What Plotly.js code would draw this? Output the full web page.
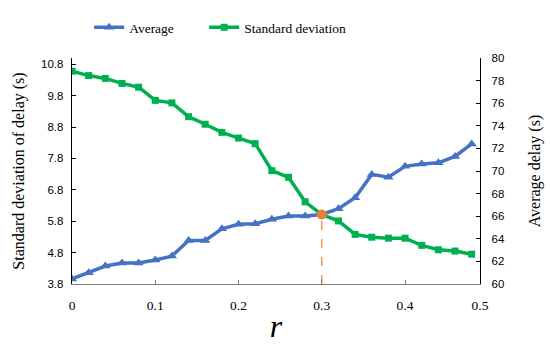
<!DOCTYPE html>
<html>
<head>
<meta charset="utf-8">
<script src="https://cdn.plot.ly/plotly-3.0.1.min.js"></script>
<style>html,body{margin:0;padding:0;background:#fff;}#chart{width:550px;height:344px;}</style>
</head>
<body>
<div id="chart"></div>
<script>
// r values (0 to 0.48, step 0.02)
const rValues = [0,0.02,0.04,0.06,0.08,0.10,0.12,0.14,0.16,0.18,0.20,0.22,0.24,0.26,0.28,0.30,0.32,0.34,0.36,0.38,0.40,0.42,0.44,0.46,0.48];
// Average delay (s), right axis
const averageDelay = [60.45,61.0,61.59,61.85,61.85,62.13,62.47,63.86,63.86,64.88,65.28,65.34,65.73,66.02,66.02,66.15,66.66,67.63,69.70,69.45,70.41,70.61,70.72,71.29,72.40];
// Standard deviation of delay (s), left axis
const stdDelay = [10.58,10.44,10.35,10.19,10.07,9.65,9.57,9.13,8.89,8.63,8.45,8.27,7.41,7.20,6.42,6.01,5.81,5.38,5.29,5.26,5.26,5.03,4.89,4.85,4.75];
// Tick labels
const leftTicks = [3.8,4.8,5.8,6.8,7.8,8.8,9.8,10.8];
const rightTicks = [60,62,64,66,68,70,72,74,76,78,80];
const xTickVals = [0,0.1,0.2,0.3,0.4,0.49];
const xTickText = ["0","0.1","0.2","0.3","0.4","0.5"];
const crossIndex = 15;

const serif = "Liberation Serif, Times New Roman, serif";
const sans = "Liberation Sans, Arial, sans-serif";

const traces = [
  {x: rValues, y: stdDelay, yaxis: 'y', name: 'Standard deviation', type: 'scatter', mode: 'lines+markers', legend: 'legend2',
   line: {color: '#00B050', width: 3.5}, marker: {symbol: 'square', size: 7, color: '#00B050'}},
  {x: [rValues[crossIndex], rValues[crossIndex]], y: [60, averageDelay[crossIndex]], yaxis: 'y2', type: 'scatter', mode: 'lines',
   line: {color: '#ED7D31', width: 1.2, dash: 'dash'}, showlegend: false, hoverinfo: 'skip'},
  {x: rValues, y: averageDelay, yaxis: 'y2', name: 'Average', type: 'scatter', mode: 'lines+markers', legend: 'legend',
   line: {color: '#4472C4', width: 3.5}, marker: {symbol: 'triangle-up', size: 9, color: '#4472C4'}},
  {x: [rValues[crossIndex]], y: [averageDelay[crossIndex]], yaxis: 'y2', type: 'scatter', mode: 'markers',
   marker: {symbol: 'circle', size: 10, color: '#ED7D31'}, showlegend: false}
];

const legendFont = {family: serif, size: 13.5, color: '#000'};

const layout = {
  width: 550, height: 344,
  margin: {l: 72, r: 70, t: 49, b: 60},
  paper_bgcolor: '#fff', plot_bgcolor: 'rgba(0,0,0,0)',
  showlegend: true,
  legend: {orientation: 'h', x: 0.042, xanchor: 'left', y: 1.135, yanchor: 'middle', font: legendFont, bgcolor: 'rgba(0,0,0,0)'},
  legend2: {orientation: 'h', x: 0.324, xanchor: 'left', y: 1.135, yanchor: 'middle', font: legendFont, bgcolor: 'rgba(0,0,0,0)'},
  xaxis: {range: [0, 0.49], tickvals: xTickVals, ticktext: xTickText, showgrid: false, zeroline: false,
          showline: true, linecolor: '#7f7f7f', linewidth: 1.3, ticks: 'inside', ticklen: 4, tickcolor: '#7f7f7f',
          ticklabelstandoff: 8,
          tickfont: {family: serif, size: 13.5, color: '#000'},
          title: {text: '<i>r</i>', font: {family: serif, size: 32, color: '#000'}, standoff: 6}},
  yaxis: {range: [3.8, 11.0], tickvals: leftTicks, ticktext: leftTicks.map(v => v.toFixed(1)), showgrid: false, zeroline: false,
          showline: true, linecolor: '#000', linewidth: 1.3, ticks: 'inside', ticklen: 4, tickcolor: '#000',
          ticklabelstandoff: 5,
          tickfont: {family: sans, size: 11.5, color: '#000'},
          title: {text: 'Standard deviation of delay (s)', font: {family: serif, size: 16, color: '#000'}, standoff: 12}},
  yaxis2: {range: [60, 80], tickvals: rightTicks, overlaying: 'y', side: 'right', showgrid: false, zeroline: false,
          showline: true, linecolor: '#000', linewidth: 1.3, ticks: 'inside', ticklen: 4, tickcolor: '#000',
          ticklabelstandoff: 8,
          tickfont: {family: sans, size: 11.5, color: '#000'},
          title: {text: 'Average delay (s)', font: {family: serif, size: 16, color: '#000'}, standoff: 24}}
};

Plotly.newPlot('chart', traces, layout, {displayModeBar: false, staticPlot: true});
</script>
</body>
</html>
